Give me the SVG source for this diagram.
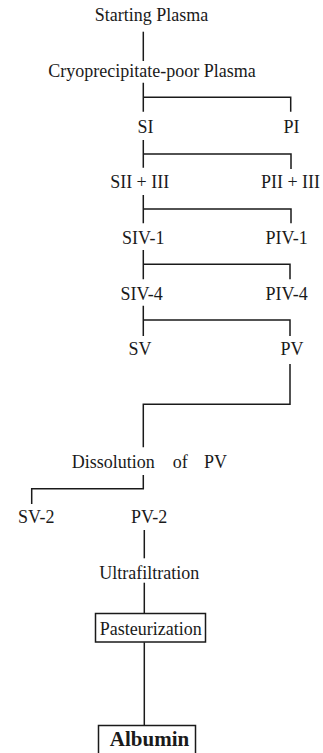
<svg xmlns="http://www.w3.org/2000/svg" width="323" height="753" viewBox="0 0 323 753">
  <style>
    text { font-family: "Liberation Serif", "Times New Roman", serif; font-size: 18px; fill: #1a1a1a; text-anchor: middle; }
    .bold { font-weight: bold; font-size: 21px; }
    .box { fill: #ffffff; stroke: #1a1a1a; stroke-width: 1.5; }
    #connectors path { fill: none; stroke: #1a1a1a; stroke-width: 1.5; }
  </style>
  <rect width="323" height="753" fill="#ffffff"/>

  <g id="connectors">
    <path d="M143.3,31.7 V61"/>
    <path d="M143.3,82.7 V111.7 M143.3,97.3 H290.7 V111.7"/>
    <path d="M143.3,140 V167.7 M143.3,154 H291 V169"/>
    <path d="M143.3,195 V223.3 M143.3,209 H291 V223.3"/>
    <path d="M143.3,250 V279.3 M143.3,264.3 H290 V279.3"/>
    <path d="M143.3,305.7 V336 M143.3,320 H290 V336"/>
    <path d="M290,364 V404.3 H143.3 V447.3"/>
    <path d="M143.3,475 V488.7 H31.7 V504"/>
    <path d="M144.3,530 V558.3"/>
    <path d="M144.3,582.7 V613.3"/>
    <path d="M144.3,642.3 V725.5"/>
  </g>

  <g id="starting-plasma"><text x="151.5" y="21">Starting Plasma</text></g>
  <g id="cryo-poor-plasma"><text x="152" y="76.7">Cryoprecipitate-poor Plasma</text></g>

  <g id="si"><text x="145.5" y="133">SI</text></g>
  <g id="pi"><text x="291.5" y="133">PI</text></g>

  <g id="sii-iii"><text x="139.7" y="188.3">SII + III</text></g>
  <g id="pii-iii"><text x="290.5" y="188.3">PII + III</text></g>

  <g id="siv-1"><text x="143.3" y="244">SIV-1</text></g>
  <g id="piv-1"><text x="286.7" y="244">PIV-1</text></g>

  <g id="siv-4"><text x="141.7" y="300">SIV-4</text></g>
  <g id="piv-4"><text x="286.7" y="300">PIV-4</text></g>

  <g id="sv"><text x="140" y="355">SV</text></g>
  <g id="pv"><text x="292" y="355">PV</text></g>

  <g id="dissolution">
    <text y="468.3" style="text-anchor:start"><tspan x="71.7">Dissolution</tspan><tspan x="172.7">of</tspan><tspan x="204">PV</tspan></text>
  </g>

  <g id="sv-2"><text x="36.3" y="523.3">SV-2</text></g>
  <g id="pv-2"><text x="149.2" y="523.3">PV-2</text></g>

  <g id="ultrafiltration"><text x="149.2" y="579">Ultrafiltration</text></g>

  <g id="pasteurization">
    <rect class="box" x="95.5" y="613.5" width="110" height="28.5"/>
    <text x="150.8" y="635">Pasteurization</text>
  </g>

  <g id="albumin">
    <rect class="box" x="98.5" y="725.5" width="97" height="32"/>
    <text class="bold" x="149.5" y="746">Albumin</text>
  </g>
</svg>
